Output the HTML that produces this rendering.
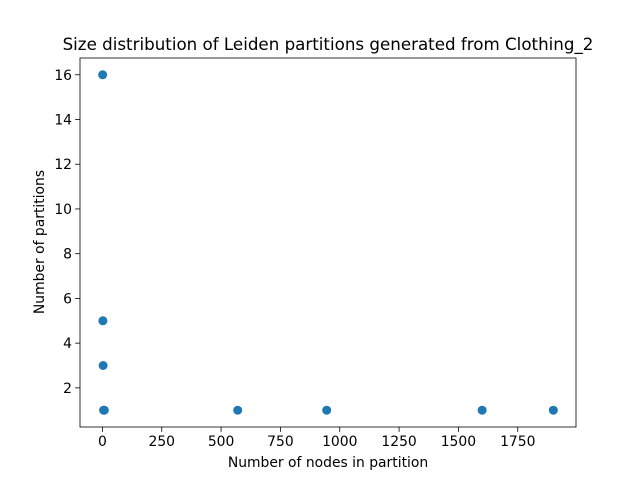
<!DOCTYPE html>
<html><head><meta charset="utf-8"><style>
body{margin:0;background:#fff}
svg text{font-family:"DejaVu Sans","Liberation Sans",sans-serif;fill:#000}
</style></head><body>
<svg id="c" width="640" height="480"></svg>
<script>
const xs=[1,2,3,5,8,570,945,1600,1900];
const ys=[16,5,3,1,1,1,1,1,1];
const xTicks=[0,250,500,750,1000,1250,1500,1750];
const yTicks=[2,4,6,8,10,12,14,16];
const title="Size distribution of Leiden partitions generated from Clothing_2";
const L=80,R=576,T=58,B=427;
const xmin=-94.45,xmax=1995.45,ymin=0.25,ymax=16.75;
const sx=v=>L+(v-xmin)/(xmax-xmin)*(R-L);
const sy=v=>B-(v-ymin)/(ymax-ymin)*(B-T);
const svg=document.getElementById('c');
const NS='http://www.w3.org/2000/svg';
function mk(t,a,p){const e=document.createElementNS(NS,t);for(const k in a)e.setAttribute(k,a[k]);(p||svg).appendChild(e);return e;}
const fr=mk('rect',{x:L,y:T,width:R-L,height:B-T,fill:'none',stroke:'#000','stroke-width':0.8});


xTicks.forEach(v=>{const x=sx(v);
const l=mk('line',{x1:x,x2:x,y1:B,y2:B+4.9,stroke:'#000','stroke-width':0.8});


const t=mk('text',{x:x,y:B+19,'text-anchor':'middle','font-size':13.9});t.textContent=v;

});
yTicks.forEach(v=>{const y=sy(v);
const l=mk('line',{x1:L-4.9,x2:L,y1:y,y2:y,stroke:'#000','stroke-width':0.8});


const t=mk('text',{x:L-8,y:y+5,'text-anchor':'end','font-size':13.9});t.textContent=v;

});
xs.forEach((v,i)=>{const c=mk('circle',{cx:sx(v),cy:sy(ys[i]),r:4.5,fill:'#1f77b4'});

});
const tt=mk('text',{x:328,y:50,'text-anchor':'middle','font-size':16.7});tt.textContent=title;


const xl=mk('text',{x:328,y:467,'text-anchor':'middle','font-size':13.9});xl.textContent="Number of nodes in partition";


const yl=mk('text',{x:0,y:0,'text-anchor':'middle','font-size':13.9,transform:'translate(44,242) rotate(-90)'});yl.textContent="Number of partitions";


</script>
</body></html>
